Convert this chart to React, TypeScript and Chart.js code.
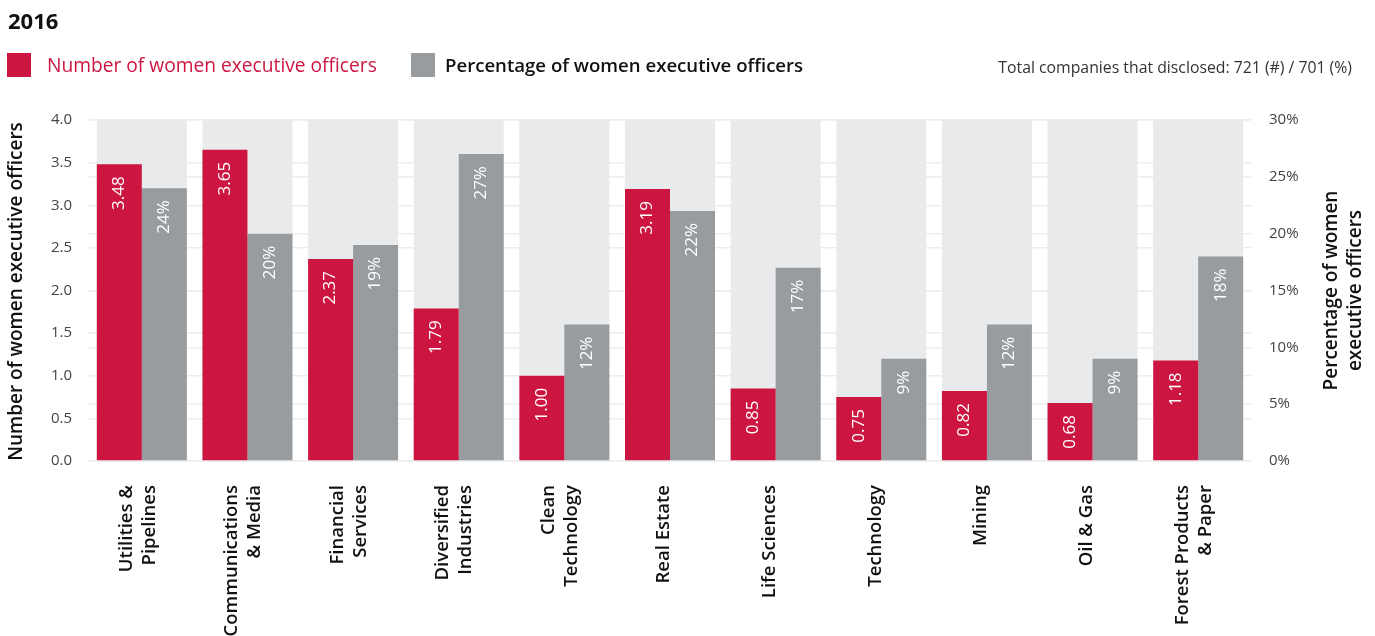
import React, { useEffect, useRef } from 'react';
import { Chart, registerables } from 'chart.js';

Chart.register(...registerables);

const titleText = '2016';
const legendNumberLabel = 'Number of women executive officers';
const legendPercentLabel = 'Percentage of women executive officers';
const noteText = 'Total companies that disclosed: 721 (#) / 701 (%)';
const leftAxisTitle = 'Number of women executive officers';
const rightAxisTitle = ['Percentage of women', 'executive officers'];

const categories: (string | string[])[] = [
  ['Utilities &', 'Pipelines'],
  ['Communications', '& Media'],
  ['Financial', 'Services'],
  ['Diversified', 'Industries'],
  ['Clean', 'Technology'],
  'Real Estate',
  'Life Sciences',
  'Technology',
  'Mining',
  'Oil & Gas',
  ['Forest Products', '& Paper'],
];
const numberValues = [3.48, 3.65, 2.37, 1.79, 1.0, 3.19, 0.85, 0.75, 0.82, 0.68, 1.18];
const percentValues = [24, 20, 19, 27, 12, 22, 17, 9, 12, 9, 18];

const leftAxisMin = 0;
const leftAxisMax = 4;
const leftAxisStep = 0.5;
const rightAxisMin = 0;
const rightAxisMax = 30;
const rightAxisStep = 5;

const RED = '#cc1641';
const GRAY = '#989c9f';
const BG = '#e9eaec';
const GRID = '#ededed';
const FONT = '"Open Sans", "DejaVu Sans", sans-serif';

const bgPlugin = {
  id: 'bgColumns',
  beforeDatasetsDraw(chart: any) {
    const { ctx, chartArea } = chart;
    const m0 = chart.getDatasetMeta(0);
    const m1 = chart.getDatasetMeta(1);
    ctx.save();
    ctx.fillStyle = BG;
    m0.data.forEach((bar: any, i: number) => {
      const g = m1.data[i];
      const left = bar.x - bar.width / 2;
      const right = g.x + g.width / 2;
      ctx.fillRect(left, chartArea.top, right - left, chartArea.bottom - chartArea.top);
    });
    ctx.restore();
  },
};

const labelPlugin = {
  id: 'barLabels',
  afterDatasetsDraw(chart: any) {
    const { ctx, chartArea } = chart;
    ctx.save();
    ctx.fillStyle = '#ffffff';
    ctx.font = `400 17px ${FONT}`;
    ctx.textAlign = 'right';
    ctx.textBaseline = 'middle';
    [0, 1].forEach((di) => {
      const meta = chart.getDatasetMeta(di);
      meta.data.forEach((bar: any, i: number) => {
        const txt = di === 0 ? numberValues[i].toFixed(2) : `${percentValues[i]}%`;
        ctx.save();
        ctx.translate(bar.x, bar.y + 12);
        ctx.rotate(-Math.PI / 2);
        ctx.fillText(txt, 0, 0);
        ctx.restore();
      });
    });

    // category labels (rotated, anchored at top)
    const xScale = chart.scales.x;
    ctx.fillStyle = '#111111';
    ctx.font = `600 18.5px ${FONT}`;
    ctx.textAlign = 'right';
    ctx.textBaseline = 'middle';
    const lh = 23;
    categories.forEach((cat, i) => {
      const lines = Array.isArray(cat) ? cat : [cat];
      const px = xScale.getPixelForTick(i);
      const center = lines.length > 1 ? px - 4 : px - 6;
      const first = center - ((lines.length - 1) * lh) / 2;
      lines.forEach((line, j) => {
        ctx.save();
        ctx.translate(first + j * lh, xScale.top + 24);
        ctx.rotate(-Math.PI / 2);
        ctx.fillText(line, 0, 0);
        ctx.restore();
      });
    });

    // axis titles
    ctx.fillStyle = '#111111';
    ctx.font = `600 19px ${FONT}`;
    ctx.textAlign = 'center';
    ctx.textBaseline = 'middle';
    const cy = (chartArea.top + chartArea.bottom) / 2;
    ctx.save();
    ctx.translate(17, cy + 1);
    ctx.rotate(-Math.PI / 2);
    ctx.fillText(leftAxisTitle, 0, 0);
    ctx.restore();
    rightAxisTitle.forEach((line, i) => {
      ctx.save();
      ctx.translate(1332 + i * 24, cy);
      ctx.rotate(-Math.PI / 2);
      ctx.fillText(line, 0, 0);
      ctx.restore();
    });
    ctx.restore();
  },
};

export default function App() {
  const canvasRef = useRef<HTMLCanvasElement | null>(null);

  useEffect(() => {
    document.body.style.margin = '0';
    const canvas = canvasRef.current;
    if (!canvas) return;
    const chart = new Chart(canvas, {
      type: 'bar',
      data: {
        labels: categories,
        datasets: [
          {
            label: legendNumberLabel,
            data: numberValues,
            backgroundColor: RED,
            yAxisID: 'y',
            borderWidth: 0,
            barPercentage: 1,
            categoryPercentage: 0.852,
          },
          {
            label: legendPercentLabel,
            data: percentValues,
            backgroundColor: GRAY,
            yAxisID: 'y1',
            borderWidth: 0,
            barPercentage: 1,
            categoryPercentage: 0.852,
          },
        ],
      },
      options: {
        responsive: false,
        animation: false,
        layout: { padding: { top: 120, left: 0, right: 0, bottom: 0 } },
        plugins: {
          legend: { display: false },
          tooltip: { enabled: false },
        },
        scales: {
          x: {
            grid: { display: false },
            border: { display: false },
            ticks: { display: false, autoSkip: false },
            afterFit(scale: any) {
              scale.height = 636 - 461;
            },
          },
          y: {
            position: 'left',
            min: leftAxisMin,
            max: leftAxisMax,
            grid: { color: GRID, lineWidth: 1.5, drawTicks: false },
            border: { display: false },
            ticks: {
              stepSize: leftAxisStep,
              padding: 17,
              color: '#444444',
              font: { family: FONT, size: 15, weight: 400 },
              callback: (v: any) => Number(v).toFixed(1),
            },
            afterFit(scale: any) {
              scale.width = 89;
            },
          },
          y1: {
            position: 'right',
            min: rightAxisMin,
            max: rightAxisMax,
            grid: { color: GRID, lineWidth: 1.5, drawTicks: false },
            border: { display: false },
            ticks: {
              stepSize: rightAxisStep,
              padding: 18,
              color: '#444444',
              font: { family: FONT, size: 15, weight: 400 },
              callback: (v: any) => `${v}%`,
            },
            afterFit(scale: any) {
              scale.width = 1375 - 1251;
            },
          },
        },
      },
      plugins: [bgPlugin, labelPlugin],
    } as any);
    return () => chart.destroy();
  }, []);

  return (
    <div style={{ position: 'relative', width: 1375, height: 636, overflow: 'hidden', fontFamily: FONT }}>
      <canvas ref={canvasRef} width={1375} height={636} style={{ position: 'absolute', left: 0, top: 0, display: 'block' }} />
      <div style={{ position: 'absolute', left: 8, top: 5, fontSize: 22, fontWeight: 700, color: '#111', lineHeight: '30px' }}>{titleText}</div>
      <div style={{ position: 'absolute', left: 7, top: 53, width: 24, height: 24, background: RED }} />
      <div style={{ position: 'absolute', left: 47, top: 51, fontSize: 19.2, fontWeight: 400, color: RED, lineHeight: '28px', whiteSpace: 'nowrap' }}>{legendNumberLabel}</div>
      <div style={{ position: 'absolute', left: 411, top: 53, width: 24, height: 24, background: GRAY }} />
      <div style={{ position: 'absolute', left: 445, top: 51, fontSize: 18.6, fontWeight: 600, color: '#111', lineHeight: '28px', whiteSpace: 'nowrap' }}>{legendPercentLabel}</div>
      <div style={{ position: 'absolute', right: 23, top: 55, fontSize: 15.8, fontWeight: 400, color: '#333', lineHeight: '24px', whiteSpace: 'nowrap' }}>{noteText}</div>
    </div>
  );
}
